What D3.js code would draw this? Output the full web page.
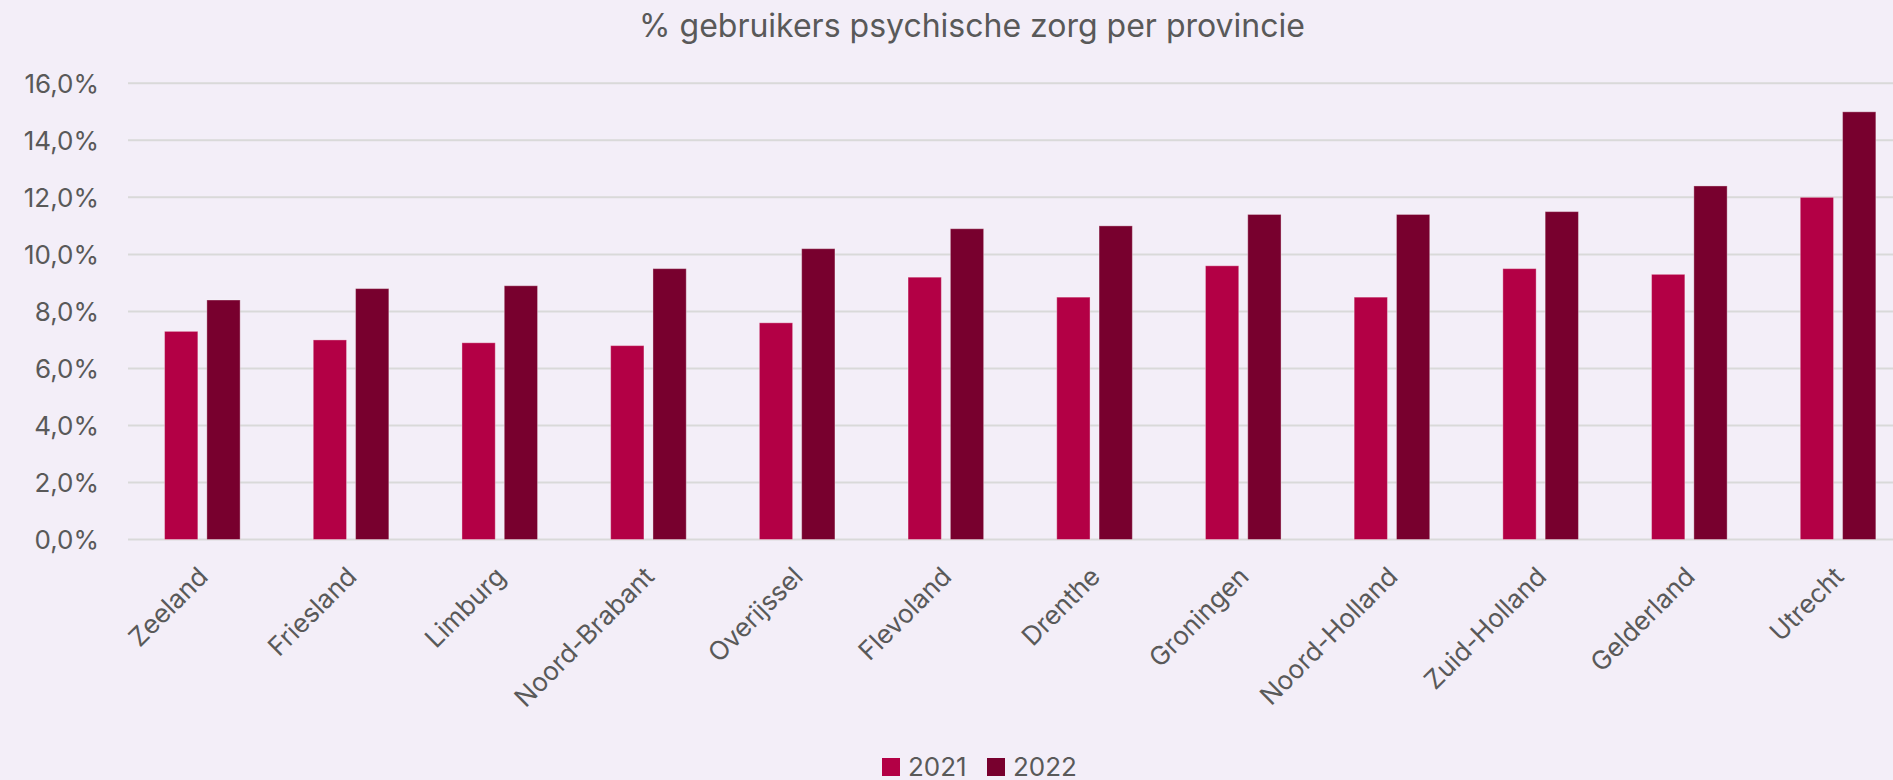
<!DOCTYPE html>
<html><head><meta charset="utf-8">
<script src="https://cdn.jsdelivr.net/npm/d3@7"></script>
<style>
html,body{margin:0;padding:0;background:#F3EEF8;overflow:hidden;}
text{font-family:Inter,"Open Sans",sans-serif;fill:#595959;}
</style></head>
<body>
<svg id="c" width="1893" height="780"></svg>
<script>
const categories = ["Zeeland","Friesland","Limburg","Noord-Brabant","Overijssel","Flevoland","Drenthe","Groningen","Noord-Holland","Zuid-Holland","Gelderland","Utrecht"];
const seriesNames = ["2021","2022"];
const values2021 = [7.3,7.0,6.9,6.8,7.6,9.2,8.5,9.6,8.5,9.5,9.3,12.0];
const values2022 = [8.4,8.8,8.9,9.5,10.2,10.9,11.0,11.4,11.4,11.5,12.4,15.0];
const yTicks = [0,2,4,6,8,10,12,14,16];
const title = "% gebruikers psychische zorg per provincie";

const colors = ["#B30045","#78002E"];
const series = [values2021, values2022];

const svg = d3.select("#c");
const W = 1893, H = 780;
svg.append("rect").attr("width",W).attr("height",H).attr("fill","#F3EEF8");

const x0 = d3.scaleBand().domain(categories).range([128, 1912.4]).padding(0);
const x1 = d3.scaleBand().domain(seriesNames).range([0, x0.bandwidth()]).paddingInner(0.213).paddingOuter(0.864);
const y = d3.scaleLinear().domain([0,16]).range([539.5, 83.3]);

// gridlines
svg.append("g").selectAll("line").data(yTicks).join("line")
  .attr("x1",128).attr("x2",W+20)
  .attr("y1",d=>y(d)).attr("y2",d=>y(d))
  .attr("stroke","#D9D9D9").attr("stroke-width",2);

// y labels
const fmt = d => d.toFixed(1).replace(".",",") + "%";
svg.append("g").selectAll("text").data(yTicks).join("text")
  .attr("x",99).attr("y",d=>y(d)+9.5)
  .attr("text-anchor","end")
  .style("font-size","26px")
  .text(fmt);

// bars
const g = svg.append("g");
categories.forEach((c,i)=>{
  seriesNames.forEach((s,j)=>{
    const v = series[j][i];
    g.append("rect")
      .attr("x", x0(c)+x1(s))
      .attr("y", y(v))
      .attr("width", x1.bandwidth())
      .attr("height", y(0)-y(v))
      .attr("fill", colors[j])
      .attr("stroke","rgba(255,255,255,0.35)")
      .attr("stroke-width",1);
  });
});

// x labels
svg.append("g").selectAll("text").data(categories).join("text")
  .attr("transform", d=>`translate(${x0(d)+x0.bandwidth()/2-6},${565}) rotate(-45)`)
  .attr("text-anchor","end")
  .attr("dy","0.72em")
  .style("font-size","26px")
  .text(d=>d);

// title
svg.append("text")
  .attr("x",972).attr("y",37)
  .attr("text-anchor","middle")
  .style("font-size","32px")
  .text(title);

// legend
const leg = svg.append("g");
const legX = [882, 987];
seriesNames.forEach((s,j)=>{
  leg.append("rect").attr("x",legX[j]).attr("y",758).attr("width",18).attr("height",18).attr("fill",colors[j]);
  leg.append("text").attr("x",legX[j]+26).attr("y",776).style("font-size","26px").text(s);
});
</script>
</body></html>
